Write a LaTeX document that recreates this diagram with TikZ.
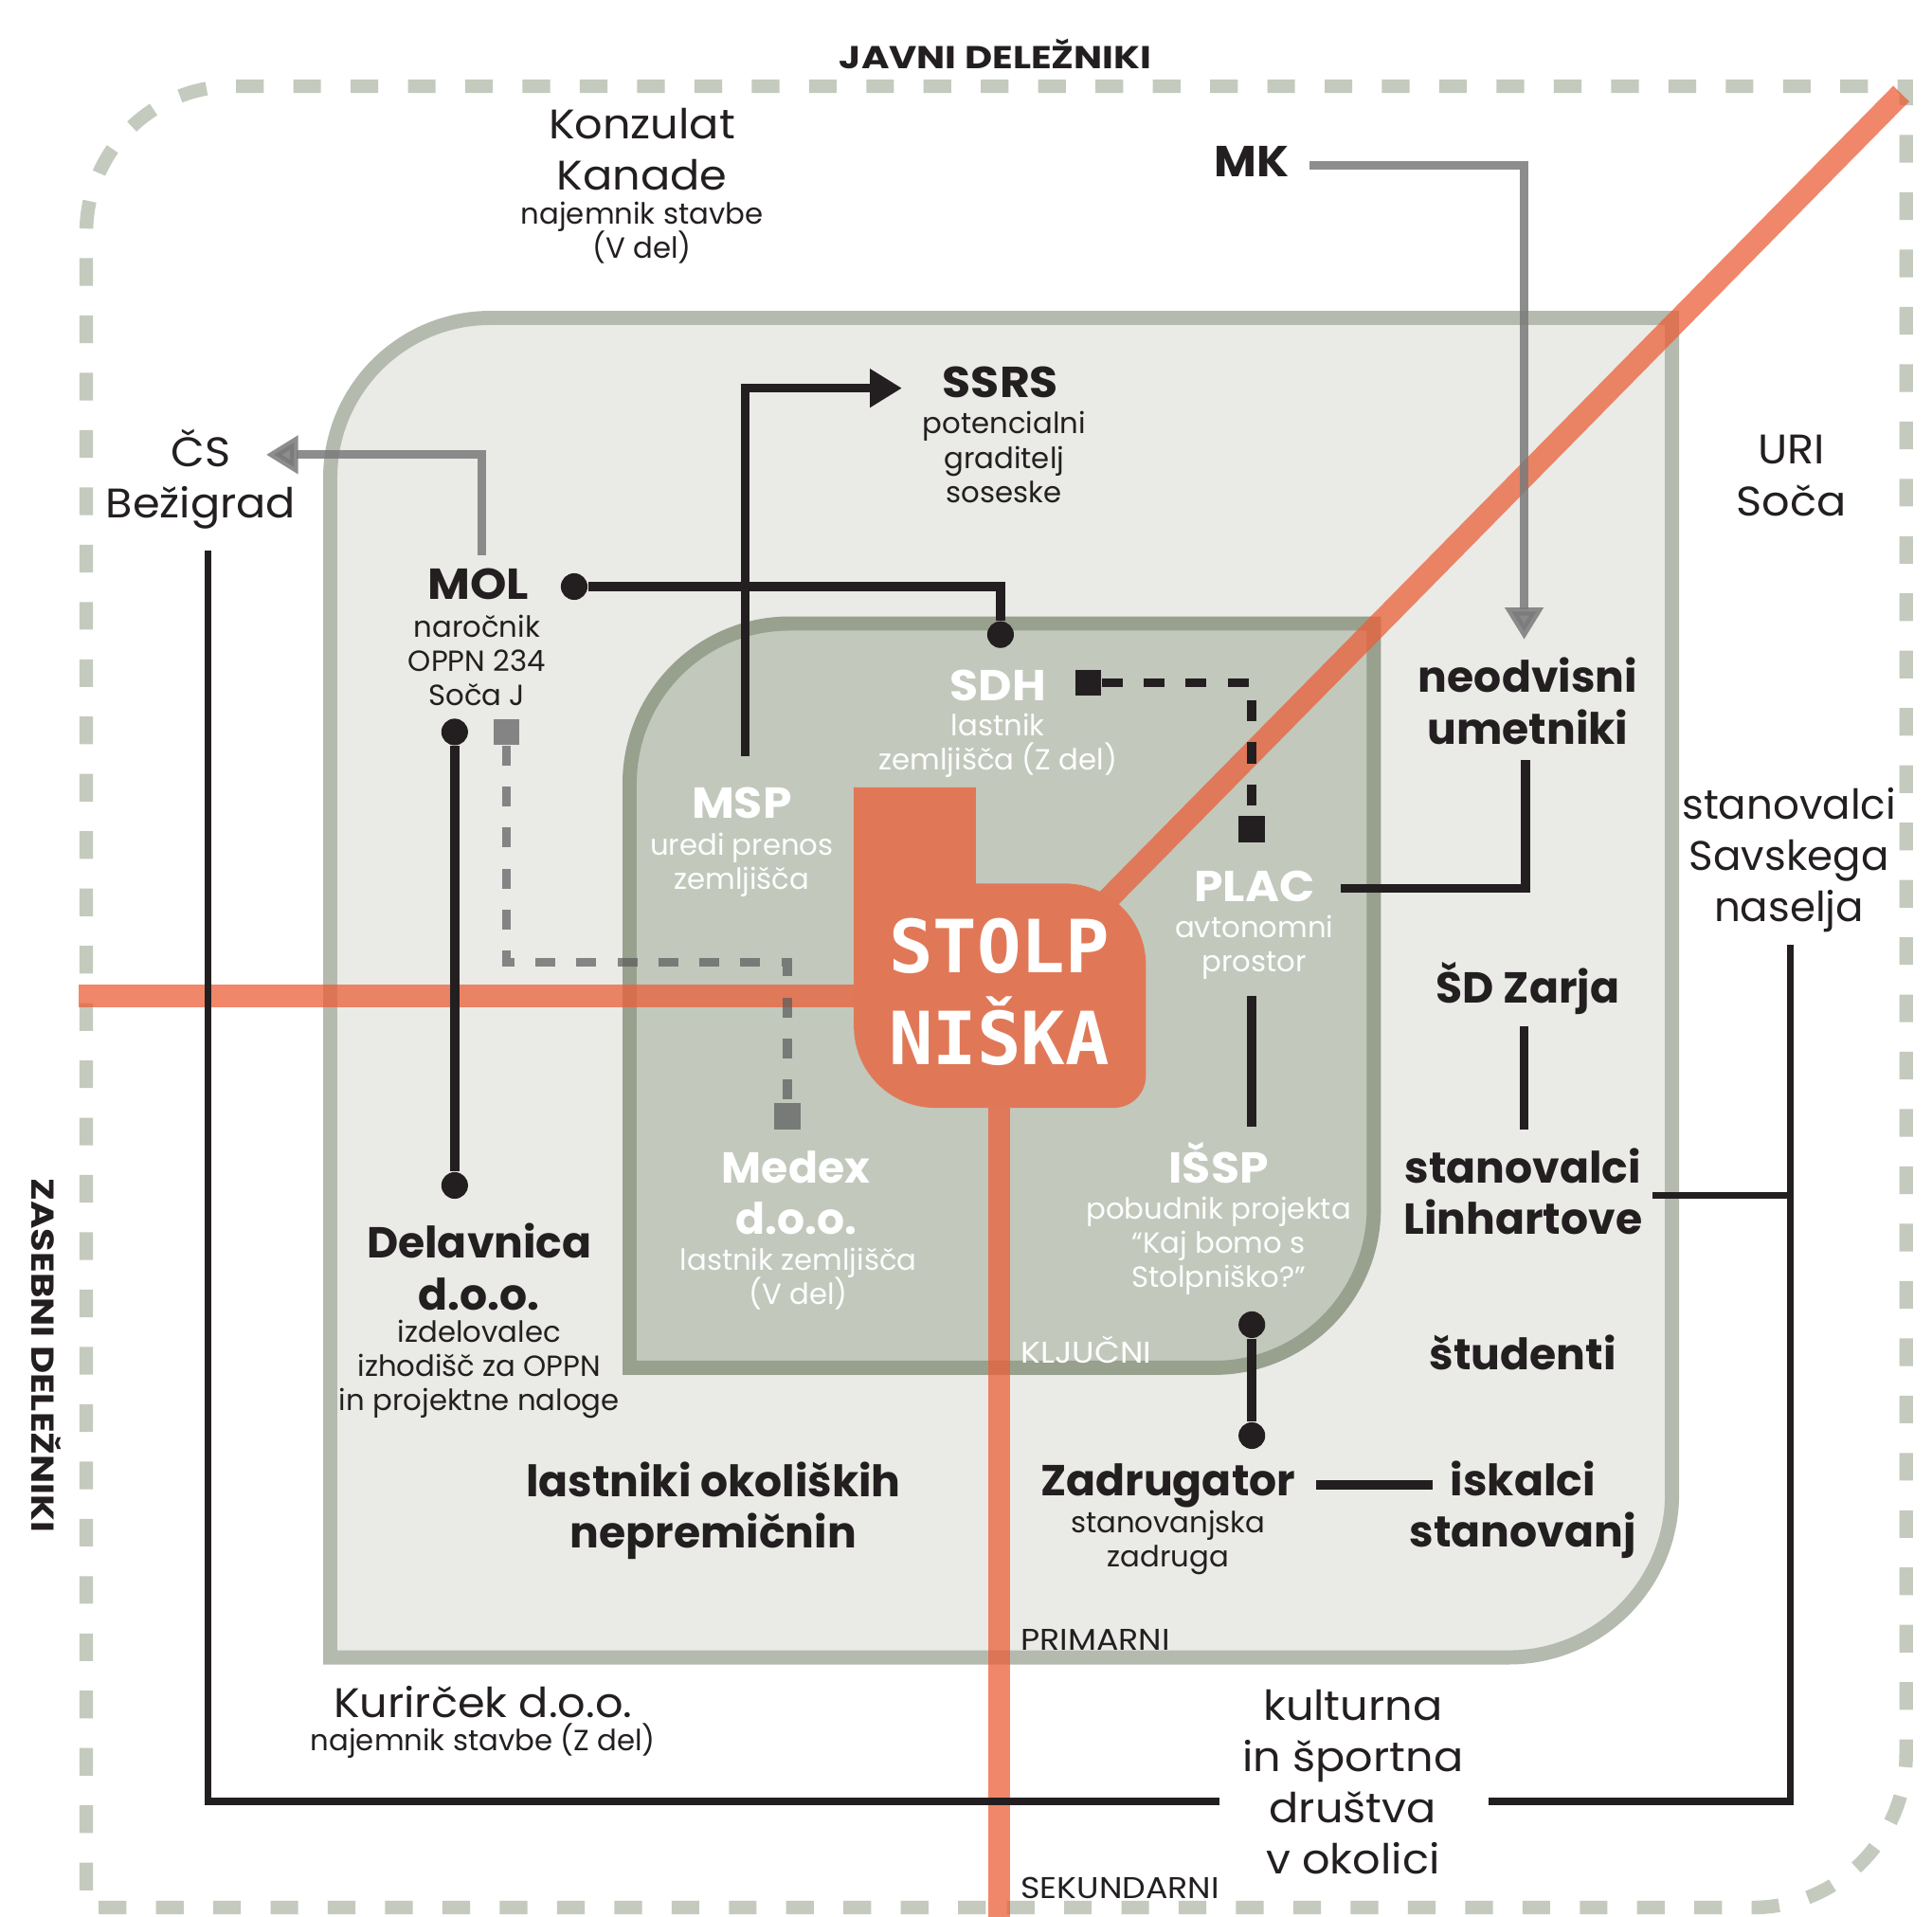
\documentclass[tikz,border=0pt]{standalone}
\usepackage{fontspec}
\setmainfont{Poppins}
\newfontfamily\widefont{Poppins}[FakeStretch=1.06]
\newfontfamily\capsfont{Poppins}[FakeStretch=1.07]
\newfontfamily\sectorfont{Poppins}[FakeStretch=1.2]
\newfontfamily\tierfont{Poppins}[FakeStretch=1.1]
\newfontfamily\towerfont{DejaVu Sans Mono}
\newcommand\tightlines{\lineskiplimit=-20pt\relax}
\usetikzlibrary{positioning, arrows.meta}
\definecolor{ink}{HTML}{231F20}
\definecolor{dashgreen}{HTML}{C4CABD}
\definecolor{primfill}{HTML}{EAEAE7}
\definecolor{primline}{HTML}{B4BAAE}
\definecolor{keyfill}{HTML}{C2C8BC}
\definecolor{keyline}{HTML}{98A08E}
\definecolor{route}{HTML}{EB5E37}
\definecolor{tower}{HTML}{E07858}
\definecolor{arrowgray}{HTML}{7A7A7A}
\definecolor{dashgray}{HTML}{5A5A5A}

\begin{document}
\begin{tikzpicture}[x=0.013004cm, y=-0.013004cm,
    boldlbl/.style={font=\fontsize{13}{15.4}\selectfont\bfseries\tightlines, align=center, inner sep=0pt, text=ink},
    capslbl/.style={boldlbl, font=\capsfont\fontsize{13}{15.4}\selectfont\bfseries},
    reglbl/.style={font=\widefont\fontsize{12.4}{15.4}\selectfont\tightlines, align=center, inner sep=0pt, text=ink},
    sublbl/.style={font=\fontsize{8.75}{10.3}\selectfont\tightlines, align=center, inner sep=0pt, text=ink},
    sector/.style={font=\sectorfont\fontsize{9.5}{11}\selectfont\bfseries, inner sep=0pt, text=ink},
    tier/.style={font=\tierfont\fontsize{9}{10}\selectfont, anchor=west, inner sep=0pt, text=ink},
    onkey/.style={text=white},
    dot/.style={circle, fill=ink, minimum size=8pt, inner sep=0pt},
    sq/.style={rectangle, fill=ink, minimum size=7.8pt, inner sep=0pt},
    gsq/.style={rectangle, fill=dashgray, fill opacity=0.7, minimum size=7.8pt, inner sep=0pt},
    link/.style={draw=ink, line width=2.7pt},
    outlink/.style={draw=ink, line width=2.1pt},
    graydash/.style={draw=dashgray, draw opacity=0.7, line width=2.7pt, dash pattern=on 6pt off 6.3pt},
    grayarrow/.style={draw=arrowgray, draw opacity=0.85, fill opacity=0.85, line width=2.6pt, -{Triangle[width=11pt, length=9.6pt]}},
    blackarrow/.style={draw=ink, line width=2.6pt, -{Triangle[width=11pt, length=9.6pt]}},
    routeline/.style={draw=route, draw opacity=0.74, line width=6.7pt}
  ]
  \fill[white] (0,0) rectangle (1568,1555);
  \useasboundingbox (0,0) rectangle (1568,1555);

  % rings
  \draw[dashgreen, line width=4.1pt, dash pattern=on 8.3pt off 8.9pt]
    (800,1548) -- (70,1548) [rounded corners=44pt] -- (70,70) [sharp corners] -- (1547,70)
    [rounded corners=46pt] -- (1547,1548) [sharp corners] -- cycle;
  \draw[fill=primfill, draw=primline, line width=4.25pt]
    (800,1345) -- (268,1345) [rounded corners=48pt] -- (268,258) [sharp corners] -- (1357,258)
    [rounded corners=49pt] -- (1357,1345) [sharp corners] -- cycle;
  \draw[fill=keyfill, draw=keyline, line width=4.25pt]
    (800,1110) -- (511,1110) [rounded corners=48pt] -- (511,506) [sharp corners] -- (1115,506)
    [rounded corners=48pt] -- (1115,1110) [sharp corners] -- cycle;

  % axes through the site
  \coordinate (west-end) at (64,808);
  \coordinate (tower-w) at (700,808);
  \coordinate (south-end) at (811,1556);
  \coordinate (tower-s) at (811,890);
  \coordinate (ne-end) at (1543,76);
  \coordinate (tower-ne) at (895,734);
  \draw[routeline] (west-end) -- (tower-w);
  \draw[routeline] (tower-s) -- (south-end);
  \draw[routeline] (tower-ne) -- (ne-end);

  \fill[tower] (693,700) -- (693,639) -- (792,639) -- (792,717)
    [rounded corners=24.4pt] -- (930,717) [rounded corners=9.6pt] -- (930,899)
    [rounded corners=24.4pt] -- (693,899) [sharp corners] -- cycle;
  \node[font=\towerfont\bfseries\fontsize{22}{27.7}\selectfont, text=white, align=center, inner sep=0pt] (stolp) at (811,805) {STOLP\\NIŠKA};

  % sector labels
  \node[sector] (javni) at (808,44) {JAVNI DELEŽNIKI};
  \node[sector, rotate=-90] (zasebni) at (38,1100) {ZASEBNI DELEŽNIKI};
  \node[tier, text=white] (kljucni) at (828,1095) {KLJUČNI};
  \node[tier] (primarni) at (828,1331) {PRIMARNI};
  \node[tier] (sekundarni) at (828,1532) {SEKUNDARNI};

  % stakeholders
  \node[reglbl] (konzulat) at (521,121) {Konzulat\\Kanade};
  \node[sublbl] (konzulat-d) at (521,189) {najemnik stavbe\\(V del)};
  \node[capslbl] (mk) at (1016,131) {MK};
  \node[capslbl] (ssrs) at (812,310) {SSRS};
  \node[sublbl] (ssrs-d) at (815,371) {potencialni\\graditelj\\soseske};
  \node[reglbl] (cs) at (163,389) {ČS\\Bežigrad};
  \node[reglbl] (uri) at (1454,386) {URI\\Soča};
  \node[capslbl] (mol) at (388,474) {MOL};
  \node[sublbl] (mol-d) at (387,536) {naročnik\\OPPN 234\\Soča J};
  \node[capslbl, onkey] (sdh) at (810,556) {SDH};
  \node[sublbl, onkey] (sdh-d) at (810,605) {lastnik\\zemljišča (Z del)};
  \node[boldlbl] (neodv) at (1240,569) {neodvisni\\umetniki};
  \node[capslbl, onkey] (msp) at (602,652) {MSP};
  \node[sublbl, onkey] (msp-d) at (602,702) {uredi prenos\\zemljišča};
  \node[capslbl, onkey] (plac) at (1018,719) {PLAC};
  \node[sublbl, onkey] (plac-d) at (1018,769) {avtonomni\\prostor};
  \node[reglbl, font=\normalfont\fontsize{12.4}{15.4}\selectfont] (savske) at (1452,698) {stanovalci\\Savskega\\naselja};
  \node[boldlbl] (zarja) at (1240,802) {ŠD Zarja};
  \node[boldlbl, onkey] (medex) at (646,968) {Medex\\d.o.o.};
  \node[sublbl, onkey] (medex-d) at (648,1038) {lastnik zemljišča\\(V del)};
  \node[capslbl, onkey] (issp) at (989,944) {IŠSP};
  \node[sublbl, onkey] (issp-d) at (989,1011) {pobudnik projekta\\“Kaj bomo s\\Stolpniško?”};
  \node[boldlbl] (linhart) at (1236,967) {stanovalci\\Linhartove};
  \node[boldlbl] (delav) at (389,1028) {Delavnica\\d.o.o.};
  \node[sublbl] (delav-d) at (389,1111) {izdelovalec\\izhodišč za OPPN\\in projektne naloge};
  \node[boldlbl] (studenti) at (1236,1098) {študenti};
  \node[boldlbl] (zadrug) at (948,1206) {Zadrugator};
  \node[sublbl] (zadrug-d) at (948,1252) {stanovanjska\\zadruga};
  \node[boldlbl] (iskalci) at (1236,1225) {iskalci\\stanovanj};
  \node[boldlbl] (lastniki) at (579,1226) {lastniki okoliških\\nepremičnin};
  \node[reglbl] (kurir) at (392,1381) {Kurirček d.o.o.};
  \node[sublbl] (kurir-d) at (392,1413) {najemnik stavbe (Z del)};
  \node[reglbl] (kult) at (1098,1446) {kulturna\\in športna\\društva\\v okolici};

  % ends of the links
  \coordinate (mk-out) at (1063,134);
  \coordinate (neodv-in) at (1237,519);
  \coordinate (mol-up) at (391,451);
  \coordinate (cs-in) at (216,369);
  \coordinate (msp-up) at (605,614);
  \coordinate (ssrs-in) at (732,315);
  \coordinate (plac-out) at (1088,721);
  \coordinate (neodv-out) at (1238,617);
  \coordinate (plac-down) at (1016,808);
  \coordinate (issp-up) at (1016,914);
  \coordinate (zadrug-out) at (1068,1205);
  \coordinate (iskalci-in) at (1163,1205);
  \coordinate (zarja-down) at (1237,833);
  \coordinate (linhart-up) at (1237,917);
  \coordinate (linhart-out) at (1341,970);
  \coordinate (savske-down) at (1453,767);
  \coordinate (kult-r) at (1208,1462);
  \coordinate (kult-l) at (990,1462);
  \coordinate (cs-down) at (169,447);
  \coordinate (medex-bend) at (639,781);

  \node[dot] (mol-dot) at (466,476) {};
  \node[dot] (sdh-dot) at (812,515) {};
  \node[dot] (mol-dot2) at (369,594) {};
  \node[dot] (delav-dot) at (369,962) {};
  \node[dot] (issp-dot) at (1016,1075) {};
  \node[dot] (zadrug-dot) at (1016,1165) {};
  \node[sq] (sdh-sq) at (883,554) {};
  \node[sq] (plac-sq) at (1016,673) {};
  \node[gsq] (mol-sq) at (411,594) {};
  \node[gsq] (medex-sq) at (639,906) {};

  % links
  \draw[grayarrow] (mk-out) -| (neodv-in);
  \draw[grayarrow] (mol-up) |- (cs-in);
  \draw[blackarrow] (msp-up) |- (ssrs-in);
  \draw[link] (mol-dot) -| (sdh-dot);
  \draw[link, dash pattern=on 6.3pt off 6.3pt] (sdh-sq) -| (plac-sq);
  \draw[link] (plac-out) -| (neodv-out);
  \draw[link] (plac-down) -- (issp-up);
  \draw[link] (issp-dot) -- (zadrug-dot);
  \draw[link] (zadrug-out) -- (iskalci-in);
  \draw[link] (zarja-down) -- (linhart-up);
  \draw[link] (mol-dot2) -- (delav-dot);
  \draw[graydash] (mol-sq) |- (medex-bend) -- (medex-sq);
  \draw[outlink] (linhart-out) -- (linhart-out -| savske-down);
  \draw[outlink] (savske-down) |- (kult-r);
  \draw[outlink] (kult-l) -| (cs-down);
\end{tikzpicture}
\end{document}
